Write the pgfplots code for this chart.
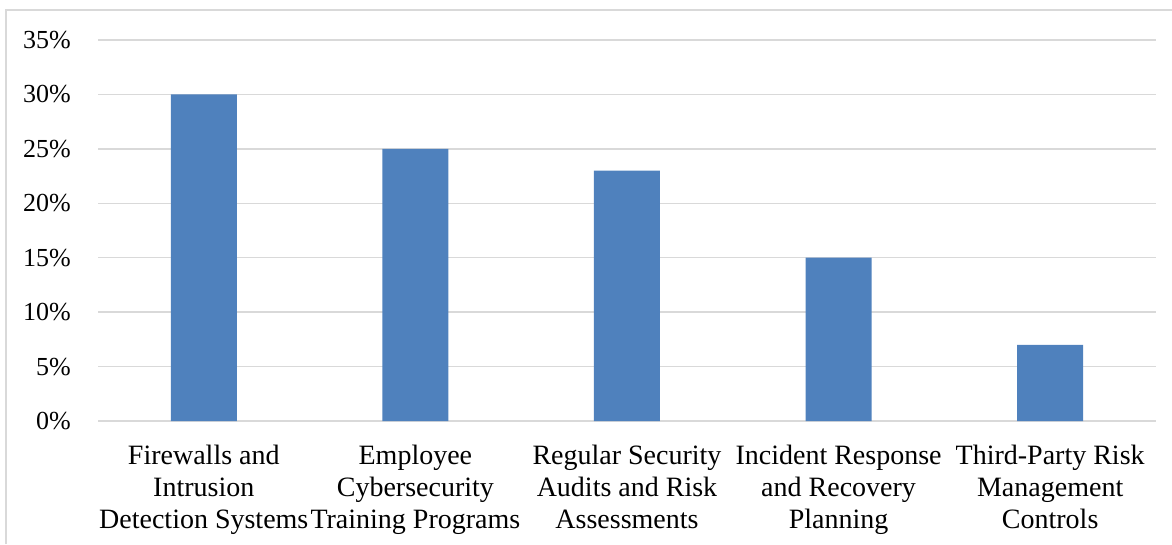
\documentclass[border=0pt]{standalone}
\usepackage{pgfplots}
\pgfplotsset{compat=1.18}
\usepackage{fontspec}
\setmainfont{Liberation Serif}
\definecolor{barblue}{HTML}{4F81BD}
\definecolor{gridgray}{HTML}{D9D9D9}
\begin{document}
\begin{tikzpicture}
\useasboundingbox (0pt,0pt) rectangle (1172pt,544pt);
% chart frame
\draw[gridgray, line width=2pt] (6pt,0pt) -- (6pt,534pt) -- (1172pt,534pt);
\begin{axis}[
  at={(98pt,123pt)}, anchor=south west,
  scale only axis, width=1058pt, height=381pt,
  xmin=-0.5, xmax=4.5, ymin=0, ymax=35,
  xtick={0,1,2,3,4},
  xticklabels={Firewalls and\\Intrusion\\Detection Systems,
               Employee\\Cybersecurity\\Training Programs,
               Regular Security\\Audits and Risk\\Assessments,
               Incident Response\\and Recovery\\Planning,
               Third-Party Risk\\Management\\Controls},
  ytick={0,5,10,15,20,25,30,35},
  yticklabels={0\%,5\%,10\%,15\%,20\%,25\%,30\%,35\%},
  major tick length=0pt,
  axis line style={draw=none},
  ymajorgrids, major grid style={gridgray, line width=1.5pt},
  yticklabel style={font=\fontsize{26}{32}\selectfont, anchor=east, inner sep=0pt, xshift=-27pt},
  xticklabel style={font=\fontsize{28}{32}\selectfont, align=center, anchor=north, inner sep=0pt, yshift=-24pt},
  clip=false,
]
\addplot[ybar, bar width=66pt, fill=barblue, draw=none] coordinates {
  (0,30) (1,25) (2,23) (3,15) (4,7)
};
\end{axis}
\end{tikzpicture}
\end{document}
